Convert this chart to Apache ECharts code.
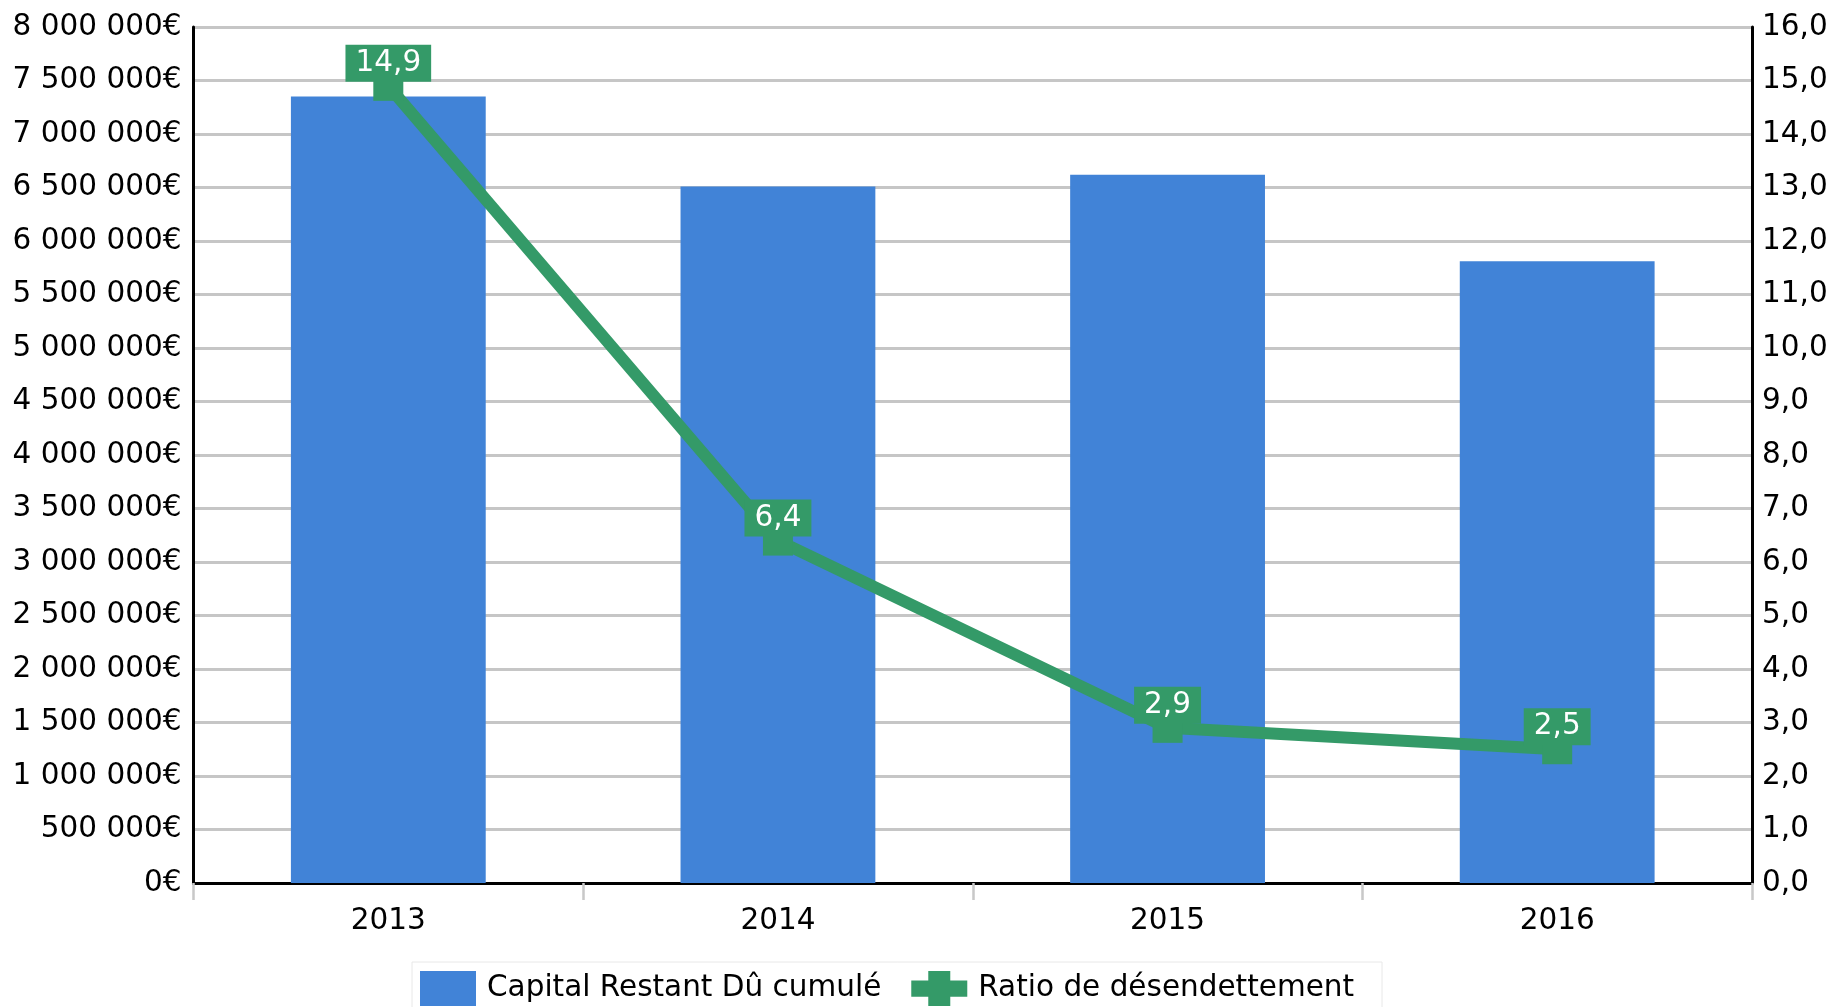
<!DOCTYPE html>
<html>
<head>
<meta charset="utf-8">
<script src="https://cdn.jsdelivr.net/npm/echarts@6/dist/echarts.min.js"></script>
<style>
html,body{margin:0;padding:0;background:#fff;}
#chart{width:1831px;height:1007px;}
</style>
</head>
<body>
<div id="chart"></div>
<script>
const categories = ['2013', '2014', '2015', '2016'];
const capitalValues = [7350000, 6510000, 6620000, 5810000];
const ratioValues = [14.9, 6.4, 2.9, 2.5];
const seriesNames = ['Capital Restant Dû cumulé', 'Ratio de désendettement'];

const FONT = 'DejaVu Sans';
const BLUE = '#4183d7';
const GREEN = '#349a68';

function fmtEuro(v) {
  return String(Math.round(v)).replace(/\B(?=(\d{3})+(?!\d))/g, ' ') + '€';
}
function fmtRatio(v) {
  return Number(v).toFixed(1).replace('.', ',');
}

const chart = echarts.init(document.getElementById('chart'), null, {renderer: 'canvas'});
chart.setOption({
  animation: false,
  backgroundColor: '#ffffff',
  textStyle: {fontFamily: FONT},
  grid: {left: 193.5, right: 79, top: 27, bottom: 124, containLabel: false},
  legend: {
    data: [
      {name: seriesNames[0], icon: 'rect'},
      {name: seriesNames[1], icon: 'path://M0,11 L17,11 L17,3.5 L39,3.5 L39,11 L56,11 L56,24 L39,24 L39,31.5 L17,31.5 L17,24 L0,24 Z'}
    ],
    symbolKeepAspect: false,
    left: 412,
    top: 962,
    padding: [9, 28, 8, 8],
    borderColor: '#e8e8e8',
    borderWidth: 1,
    itemWidth: 56,
    itemHeight: 35,
    itemGap: 30,
    textStyle: {fontFamily: FONT, fontSize: 29.5, color: '#000', padding: [2, 0, 0, 6]}
  },
  xAxis: {
    type: 'category',
    data: categories,
    boundaryGap: true,
    axisLine: {show: true, lineStyle: {color: '#000', width: 3}},
    axisTick: {show: true, length: 17, lineStyle: {color: '#c8c8c8', width: 2.5}},
    axisLabel: {fontFamily: FONT, fontSize: 29.5, color: '#000', margin: 23},
    splitLine: {show: false}
  },
  yAxis: [
    {
      type: 'value',
      min: 0, max: 8000000, interval: 500000,
      position: 'left',
      axisLine: {show: true, lineStyle: {color: '#000', width: 3}},
      axisTick: {show: false},
      axisLabel: {fontFamily: FONT, fontSize: 29.5, color: '#000', margin: 12, formatter: fmtEuro},
      splitLine: {show: true, lineStyle: {color: '#c6c6c6', width: 3}}
    },
    {
      type: 'value',
      min: 0, max: 16, interval: 1,
      position: 'right',
      axisLine: {show: true, lineStyle: {color: '#000', width: 3}},
      axisTick: {show: false},
      axisLabel: {fontFamily: FONT, fontSize: 29.5, color: '#000', margin: 10, formatter: fmtRatio},
      splitLine: {show: false}
    }
  ],
  series: [
    {
      name: seriesNames[0],
      type: 'bar',
      yAxisIndex: 0,
      data: capitalValues,
      barWidth: '50%',
      itemStyle: {color: BLUE},
      z: 2
    },
    {
      name: seriesNames[1],
      type: 'line',
      yAxisIndex: 1,
      data: ratioValues,
      symbol: 'rect',
      symbolSize: 30,
      showAllSymbol: true,
      lineStyle: {color: GREEN, width: 12},
      itemStyle: {color: GREEN},
      label: {
        show: true,
        position: 'inside',
        offset: [0, -22.5],
        formatter: p => fmtRatio(p.value),
        color: '#fff',
        fontFamily: FONT,
        fontSize: 29.5,
        lineHeight: 29,
        backgroundColor: GREEN,
        padding: [4, 10]
      },
      z: 3
    }
  ]
});
</script>
</body>
</html>
